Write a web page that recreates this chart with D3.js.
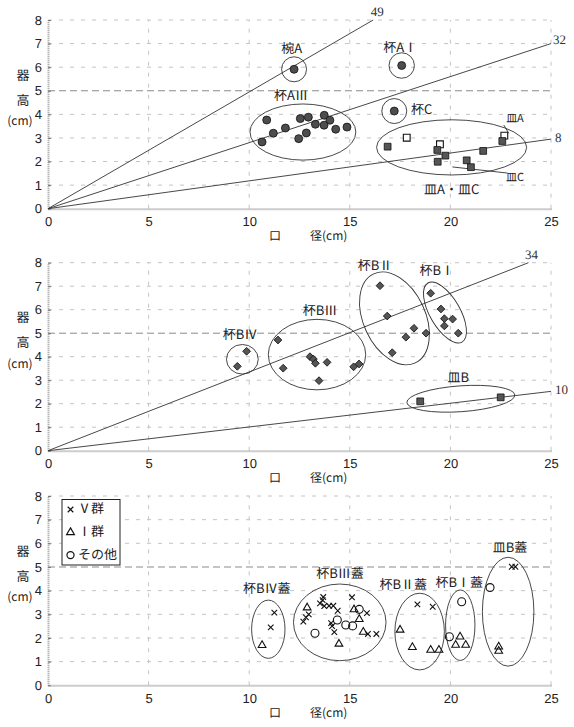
<!DOCTYPE html>
<html><head><meta charset="utf-8">
<script src="https://cdn.jsdelivr.net/npm/d3@7"></script>
<style>body{margin:0;background:#fff} text{text-rendering:geometricPrecision}</style>
</head><body>
<svg id="c" width="574" height="727"></svg>
<script>
// ---------- axes ----------
const xTicks = [0, 5, 10, 15, 20, 25];
const yTicks = [0, 1, 2, 3, 4, 5, 6, 7, 8];
const xTitleA = "口", xTitleB = "径(cm)";
const yTitle = ["器", "高", "(cm)"];

// ---------- panel 1 (杯A / 椀A / 杯C / 皿A・皿C) ----------
const bowlA = [[12.23, 5.91]];
const cupA1 = [[17.58, 6.07]];
const cupC = [[17.21, 4.14]];
const cupA3 = [[10.87, 3.76], [11.2, 3.2], [10.64, 2.83], [11.8, 3.42], [12.54, 3.82], [12.94, 3.88], [12.46, 2.97], [12.84, 3.21], [13.29, 3.58], [13.73, 3.96], [14.01, 3.75], [13.72, 3.54], [14.3, 3.37], [14.86, 3.46]];
const dishFilled = [[16.88, 2.63], [19.35, 2.49], [19.75, 2.25], [19.37, 1.99], [20.81, 2.05], [21.02, 1.76], [21.63, 2.45], [22.58, 2.87]];
const dishOpen = [[17.83, 3.01], [19.48, 2.73], [22.68, 3.10]];
const p1LineSlopes = [0.495, 0.28, 0.118];
const p1LineLabels = ["49", "32", "8"];
const p1Groups = ["椀A", "杯AⅠ", "杯C", "杯AⅢ", "皿A・皿C"];
const p1Ellipses = [[12.23, 5.91, 0.62, 0.53, 0], [17.58, 6.07, 0.63, 0.54, 0], [17.21, 4.14, 0.62, 0.53, 0], [12.67, 3.25, 2.63, 1.19, 0], [20.06, 2.6, 3.73, 1.17, 0]];
const p1LabelPos = [[12.11, 6.73, "middle"], [17.5, 6.8, "middle"], [18.04, 4.18, "start"], [12.08, 4.75, "middle"], [20.06, 0.79, "middle"]];
const p1Notes = ["皿A", "皿C"];
const p1NotePos = [[23.21, 3.79], [23.21, 1.31]];
const p1NoteFrom = [[22.65, 3.55], [20.1, 1.77]];
const p1NoteTo = [[22.9, 3.2], [22.85, 1.51]];

// ---------- panel 2 (杯B / 皿B) ----------
const cupB4 = [[9.87, 4.23], [9.41, 3.59]];
const cupB3 = [[11.43, 4.71], [11.69, 3.51], [13.02, 4.0], [13.19, 3.9], [13.29, 3.72], [13.87, 3.76], [13.47, 2.98], [15.19, 3.57], [15.46, 3.69]];
const cupB2 = [[16.5, 7.02], [16.86, 5.73], [17.11, 4.17], [17.79, 4.83], [18.19, 5.21], [18.79, 5.0]];
const cupB1 = [[19.02, 6.7], [19.53, 6.03], [19.7, 5.62], [20.11, 5.6], [19.7, 5.31], [20.39, 5.0]];
const dishB = [[18.5, 2.1], [22.5, 2.27]];
const p2LineSlopes = [0.335, 0.101];
const p2LineLabels = ["34", "10"];
const p2Groups = ["杯BⅣ", "杯BⅢ", "杯BⅡ", "杯BⅠ", "皿B"];
const p2Ellipses = [[9.66, 3.89, 0.79, 0.63, 0], [13.37, 4.09, 2.42, 1.5, 0], [17.22, 5.63, 1.54, 2.09, -25], [19.73, 5.88, 0.75, 1.45, -30], [20.52, 2.21, 2.69, 0.55, -4]];
const p2LabelPos = [[9.54, 4.92], [13.52, 5.91], [16.25, 7.83], [19.32, 7.62], [20.39, 3.08]];

// ---------- panel 3 (蓋) ----------
const groupV = [[11.25, 3.07], [11.07, 2.45],
  [13.68, 3.73], [13.65, 3.6], [13.52, 3.46], [13.73, 3.35], [13.97, 3.36], [14.18, 3.36], [14.4, 3.15], [15.11, 3.72], [15.85, 3.05], [12.96, 3.0], [12.82, 2.87], [12.69, 2.69], [14.07, 2.63], [14.12, 2.5], [14.23, 2.25], [15.9, 2.17], [16.32, 2.17],
  [18.36, 3.42], [19.12, 3.32],
  [23.05, 5.01], [23.23, 5.01]];
const groupI = [[10.64, 1.69],
  [12.88, 3.28], [15.21, 3.2], [15.47, 2.79], [15.67, 2.25], [14.46, 1.75],
  [17.5, 2.34], [18.11, 1.61], [19.02, 1.49], [19.43, 1.49],
  [20.48, 2.05], [20.26, 1.70], [20.76, 1.70],
  [22.4, 1.63], [22.4, 1.45]];
const groupOther = [[15.47, 3.21], [14.38, 2.76], [14.8, 2.55], [15.14, 2.51], [13.27, 2.2],
  [20.56, 3.53], [19.95, 2.05],
  [21.97, 4.13]];
const legendLabels = ["Ⅴ群", "Ⅰ群", "その他"];
const p3Groups = ["杯BⅣ蓋", "杯BⅢ蓋", "杯BⅡ蓋", "杯BⅠ蓋", "皿B蓋"];
const p3Ellipses = [[10.95, 2.37, 0.83, 1.23, 0], [14.5, 2.66, 2.3, 1.62, 0], [18.47, 2.27, 1.23, 1.62, 0], [20.49, 2.54, 0.73, 1.49, 0], [22.87, 3.11, 1.28, 2.3, 0]];
const p3LabelPos = [[10.87, 4.03], [14.51, 4.7], [17.66, 4.2], [20.44, 4.31], [22.96, 5.79]];

// ---------- drawing ----------
const svg = d3.select("#c");
const CJK = "'Noto Sans CJK JP','Noto Sans',sans-serif";
const x = d3.scaleLinear().domain([0, 25]).range([48, 551]);

function panel(bottom, top) {
  const y = d3.scaleLinear().domain([0, 8]).range([bottom, top]);
  const g = svg.append("g");
  g.selectAll(".hg").data(yTicks.filter(d => d > 0)).join("line")
    .attr("x1", x(0)).attr("x2", x(25)).attr("y1", d => y(d)).attr("y2", d => y(d))
    .attr("stroke", d => d === 5 ? "#8a8a8a" : "#c4c4c4")
    .attr("stroke-width", 1)
    .attr("stroke-dasharray", d => d === 5 ? "7,4" : "4,7");
  g.selectAll(".vg").data(xTicks.filter(d => d > 0)).join("line")
    .attr("x1", d => x(d)).attr("x2", d => x(d)).attr("y1", y(0)).attr("y2", y(8))
    .attr("stroke", "#c4c4c4").attr("stroke-dasharray", "4,7");
  const ax = d3.axisBottom(x).tickValues(xTicks).tickSize(0).tickPadding(8);
  const axg = g.append("g").attr("transform", `translate(0,${y(0)})`).call(ax);
  axg.select(".domain").attr("stroke", "#9a9a9a").attr("stroke-width", 2).attr("stroke-dasharray", "1,1");
  axg.selectAll("text").attr("font-family", "'Liberation Sans',Arial,sans-serif").attr("font-size", 13).attr("fill", "#222");
  const ay = d3.axisLeft(y).tickValues(yTicks).tickSize(-3).tickSizeOuter(0).tickPadding(6);
  const ayg = g.append("g").attr("transform", `translate(${x(0)},0)`).call(ay);
  ayg.select(".domain").attr("stroke", "#9a9a9a").attr("stroke-width", 2).attr("stroke-dasharray", "1,1");
  ayg.selectAll("line").attr("stroke", "#777");
  ayg.selectAll("text").attr("font-family", "'Liberation Sans',Arial,sans-serif").attr("font-size", 13).attr("fill", "#222");
  const yt = [56, 81, 102];
  yTitle.forEach((t, i) => {
    g.append("text").attr("x", i < 2 ? 23 : 20).attr("y", y(8) + yt[i]).attr("text-anchor", "middle")
      .attr("dominant-baseline", "middle").attr("font-family", CJK).attr("font-size", i < 2 ? 13 : 12)
      .attr("fill", "#222").text(t);
  });
  g.append("text").attr("x", 275).attr("y", y(0) + 28).attr("text-anchor", "middle").attr("dominant-baseline", "middle")
    .attr("font-family", CJK).attr("font-size", 12).attr("fill", "#222").text(xTitleA);
  g.append("text").attr("x", 310).attr("y", y(0) + 28).attr("text-anchor", "start").attr("dominant-baseline", "middle")
    .attr("font-family", CJK).attr("font-size", 12).attr("fill", "#222").text(xTitleB);
  return {g, y};
}

function refLines(p, slopes, labels, offs) {
  slopes.forEach((s, i) => {
    const xe = Math.min(25, 8 / s), ye = s * xe;
    p.g.append("line").attr("x1", x(0)).attr("y1", p.y(0)).attr("x2", x(xe)).attr("y2", p.y(ye))
      .attr("stroke", "#333").attr("stroke-width", 0.9);
    p.g.append("text").attr("x", x(xe) + offs[i][0]).attr("y", p.y(ye) + offs[i][1])
      .attr("text-anchor", offs[i][2]).attr("dominant-baseline", "middle")
      .attr("font-family", "'Liberation Serif','DejaVu Serif',serif").attr("font-size", 13).attr("fill", "#333")
      .text(labels[i]);
  });
}

function ellipses(p, list) {
  p.g.selectAll(null).data(list).join("ellipse")
    .attr("transform", d => `translate(${x(d[0])},${p.y(d[1])}) rotate(${d[4]})`)
    .attr("rx", d => x(d[2]) - x(0)).attr("ry", d => p.y(0) - p.y(d[3]))
    .attr("fill", "none").attr("stroke", "#333").attr("stroke-width", 0.9);
}

function labels(p, names, pos, size) {
  names.forEach((n, i) => {
    p.g.append("text").attr("x", x(pos[i][0])).attr("y", p.y(pos[i][1]))
      .attr("text-anchor", pos[i][2] || "middle").attr("dominant-baseline", "middle")
      .attr("font-family", CJK).attr("font-size", size).attr("fill", "#222").text(n);
  });
}

function marks(p, data, type, size, fill, rot) {
  p.g.selectAll(null).data(data).join("path")
    .attr("d", d3.symbol().type(type).size(size))
    .attr("transform", d => `translate(${x(d[0])},${p.y(d[1])}) rotate(${rot || 0})`)
    .attr("fill", fill).attr("stroke", "#111").attr("stroke-width", fill === "none" || fill === "#fff" ? 1.1 : 0.8);
}

// Panel 1
const p1 = panel(208.7, 20);
refLines(p1, p1LineSlopes, p1LineLabels, [[4, -7, "middle"], [2, -3, "start"], [4, 0, "start"]]);
ellipses(p1, p1Ellipses);
labels(p1, p1Groups, p1LabelPos, 13);
p1Notes.forEach((n, i) => {
  p1.g.append("line").attr("x1", x(p1NoteFrom[i][0])).attr("y1", p1.y(p1NoteFrom[i][1]))
    .attr("x2", x(p1NoteTo[i][0])).attr("y2", p1.y(p1NoteTo[i][1])).attr("stroke", "#333").attr("stroke-width", 0.9);
  p1.g.append("text").attr("x", x(p1NotePos[i][0])).attr("y", p1.y(p1NotePos[i][1]))
    .attr("text-anchor", "middle").attr("dominant-baseline", "middle")
    .attr("font-family", CJK).attr("font-size", 11).attr("fill", "#222").text(n);
});
marks(p1, bowlA.concat(cupA1, cupC, cupA3), d3.symbolCircle, 50, "#4d4d4d");
marks(p1, dishOpen, d3.symbolSquare, 46, "#fff");
marks(p1, dishFilled, d3.symbolSquare, 46, "#555");

// Panel 2
const p2 = panel(450.7, 262.7);
refLines(p2, p2LineSlopes, p2LineLabels, [[3, -7, "middle"], [4, 0, "start"]]);
ellipses(p2, p2Ellipses);
labels(p2, p2Groups, p2LabelPos, 13);
marks(p2, cupB4.concat(cupB3, cupB2, cupB1), d3.symbolSquare, 30, "#555", 45);
marks(p2, dishB, d3.symbolSquare, 46, "#555");

// Panel 3
const p3 = panel(685.3, 496);
ellipses(p3, p3Ellipses);
labels(p3, p3Groups, p3LabelPos, 13);
marks(p3, groupV, d3.symbolTimes, 22, "none");
marks(p3, groupI, d3.symbolTriangle, 26, "none");
marks(p3, groupOther, d3.symbolCircle, 50, "none");
const lg = p3.g.append("g");
lg.append("rect").attr("x", 62).attr("y", 499.5).attr("width", 58).attr("height", 65.5)
  .attr("fill", "#fff").attr("stroke", "#222").attr("stroke-width", 1);
const legTypes = [d3.symbolTimes, d3.symbolTriangle, d3.symbolCircle];
const legSizes = [22, 26, 40];
legendLabels.forEach((t, i) => {
  const cy = 509.5 + i * 22.8;
  lg.append("path").attr("d", d3.symbol().type(legTypes[i]).size(legSizes[i]))
    .attr("transform", `translate(70.5,${cy})`).attr("fill", "none").attr("stroke", "#111").attr("stroke-width", 1.2);
  lg.append("text").attr("x", 78).attr("y", cy).attr("dominant-baseline", "middle")
    .attr("font-family", CJK).attr("font-size", 13).attr("fill", "#222").text(t);
});
</script>
</body></html>
